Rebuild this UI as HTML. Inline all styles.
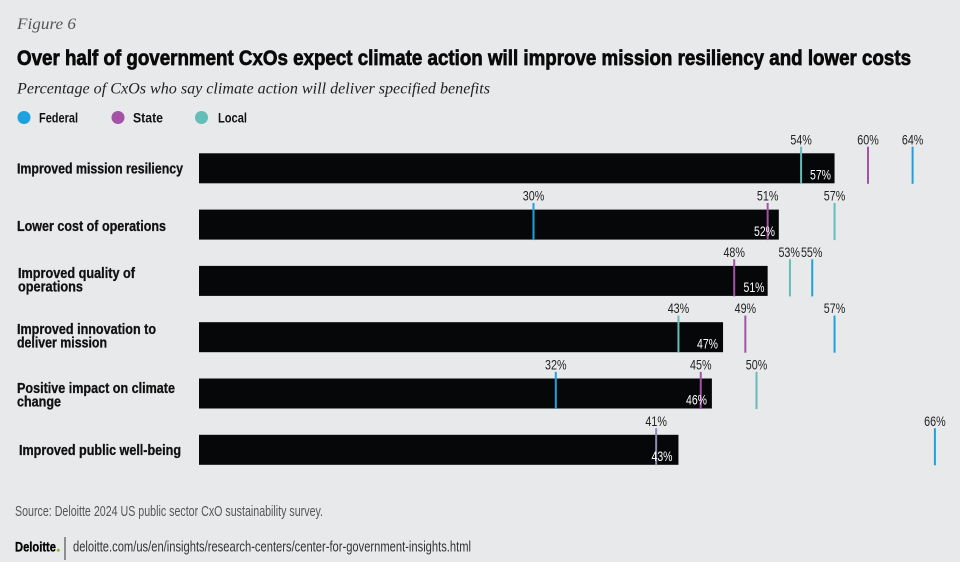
<!DOCTYPE html>
<html>
<head>
<meta charset="utf-8">
<style>
html,body{margin:0;padding:0;background:#e8e9eb;}
svg{display:block;}
.t{font-family:"Liberation Sans",sans-serif;}
.s{font-family:"Liberation Serif",serif;font-style:italic;}
.cat{font-family:"Liberation Sans",sans-serif;font-weight:bold;font-size:15px;fill:#111;stroke:#111;stroke-width:0.3;}
.pl{font-family:"Liberation Sans",sans-serif;font-size:14px;fill:#222;text-anchor:middle;}
.il{font-family:"Liberation Sans",sans-serif;font-size:14px;fill:#fff;text-anchor:end;}
</style>
</head>
<body>
<svg width="960" height="562" viewBox="0 0 960 562" xmlns="http://www.w3.org/2000/svg">
<rect x="0" y="0" width="960" height="562" fill="#e8e9eb"/>

<text class="s" x="17" y="29" font-size="16" fill="#555" textLength="59" lengthAdjust="spacingAndGlyphs">Figure 6</text>
<text class="t" x="17" y="65" font-size="21" font-weight="bold" fill="#0a0a0a" stroke="#0a0a0a" stroke-width="0.7" textLength="894" lengthAdjust="spacingAndGlyphs">Over half of government CxOs expect climate action will improve mission resiliency and lower costs</text>
<text class="s" x="17" y="93.3" font-size="16" fill="#222" textLength="473" lengthAdjust="spacingAndGlyphs">Percentage of CxOs who say climate action will deliver specified benefits</text>

<!-- legend -->
<circle cx="24" cy="117.5" r="6.5" fill="#1ea2dd"/>
<text class="t" x="39" y="122.3" font-size="14" font-weight="bold" fill="#111" textLength="39" lengthAdjust="spacingAndGlyphs">Federal</text>
<circle cx="118" cy="117.5" r="6.5" fill="#a352a6"/>
<text class="t" x="133" y="122.3" font-size="14" font-weight="bold" fill="#111" textLength="30" lengthAdjust="spacingAndGlyphs">State</text>
<circle cx="201.5" cy="117.5" r="6.5" fill="#65bdb9"/>
<text class="t" x="218" y="122.3" font-size="14" font-weight="bold" fill="#111" textLength="29" lengthAdjust="spacingAndGlyphs">Local</text>

<!-- category labels -->
<text class="cat" x="17" y="173.3" textLength="166" lengthAdjust="spacingAndGlyphs">Improved mission resiliency</text>
<text class="cat" x="17" y="231" textLength="149" lengthAdjust="spacingAndGlyphs">Lower cost of operations</text>
<text class="cat" x="18" y="278" textLength="117" lengthAdjust="spacingAndGlyphs">Improved quality of</text>
<text class="cat" x="18" y="291.5" textLength="65" lengthAdjust="spacingAndGlyphs">operations</text>
<text class="cat" x="17" y="334" textLength="139" lengthAdjust="spacingAndGlyphs">Improved innovation to</text>
<text class="cat" x="17" y="347.5" textLength="90" lengthAdjust="spacingAndGlyphs">deliver mission</text>
<text class="cat" x="17" y="393" textLength="158" lengthAdjust="spacingAndGlyphs">Positive impact on climate</text>
<text class="cat" x="17" y="406.5" textLength="44" lengthAdjust="spacingAndGlyphs">change</text>
<text class="cat" x="19" y="455" textLength="162" lengthAdjust="spacingAndGlyphs">Improved public well-being</text>

<!-- bars -->
<rect x="199" y="153.3" width="635.55" height="30" fill="#060708"/>
<rect x="199" y="209.6" width="579.8" height="30" fill="#060708"/>
<rect x="199" y="265.9" width="568.65" height="30" fill="#060708"/>
<rect x="199" y="322.2" width="524.05" height="30" fill="#060708"/>
<rect x="199" y="378.5" width="512.9" height="30" fill="#060708"/>
<rect x="199" y="434.8" width="479.45" height="30" fill="#060708"/>

<g stroke-width="2">
<line x1="801.1" y1="146.7" x2="801.1" y2="183.8" stroke="#65bdb9"/>
<line x1="868" y1="146.7" x2="868" y2="183.8" stroke="#a352a6"/>
<line x1="912.6" y1="146.7" x2="912.6" y2="183.8" stroke="#1ea2dd"/>
<line x1="533.5" y1="203" x2="533.5" y2="240.1" stroke="#1ea2dd"/>
<line x1="767.65" y1="203" x2="767.65" y2="240.1" stroke="#a352a6"/>
<line x1="834.55" y1="203" x2="834.55" y2="240.1" stroke="#65bdb9"/>
<line x1="734.2" y1="259.3" x2="734.2" y2="296.4" stroke="#a352a6"/>
<line x1="789.95" y1="259.3" x2="789.95" y2="296.4" stroke="#65bdb9"/>
<line x1="812.25" y1="259.3" x2="812.25" y2="296.4" stroke="#1ea2dd"/>
<line x1="678.45" y1="315.6" x2="678.45" y2="352.7" stroke="#65bdb9"/>
<line x1="745.35" y1="315.6" x2="745.35" y2="352.7" stroke="#a352a6"/>
<line x1="834.55" y1="315.6" x2="834.55" y2="352.7" stroke="#1ea2dd"/>
<line x1="555.8" y1="371.9" x2="555.8" y2="409" stroke="#1ea2dd"/>
<line x1="700.75" y1="371.9" x2="700.75" y2="409" stroke="#a352a6"/>
<line x1="756.5" y1="371.9" x2="756.5" y2="409" stroke="#65bdb9"/>
<line x1="656.15" y1="428.2" x2="656.15" y2="465.3" stroke="#8b8fb3"/>
<line x1="934.9" y1="428.2" x2="934.9" y2="465.3" stroke="#1ea2dd"/>
</g>

<!-- above labels -->
<text class="pl" x="801.1" y="144.3" textLength="21.5" lengthAdjust="spacingAndGlyphs">54%</text>
<text class="pl" x="868" y="144.3" textLength="21.5" lengthAdjust="spacingAndGlyphs">60%</text>
<text class="pl" x="912.6" y="144.3" textLength="21.5" lengthAdjust="spacingAndGlyphs">64%</text>

<text class="pl" x="533.5" y="200.6" textLength="21.5" lengthAdjust="spacingAndGlyphs">30%</text>
<text class="pl" x="767.65" y="200.6" textLength="21.5" lengthAdjust="spacingAndGlyphs">51%</text>
<text class="pl" x="834.55" y="200.6" textLength="21.5" lengthAdjust="spacingAndGlyphs">57%</text>

<text class="pl" x="734.2" y="256.9" textLength="21.5" lengthAdjust="spacingAndGlyphs">48%</text>
<text class="pl" x="789.2" y="256.9" textLength="21.5" lengthAdjust="spacingAndGlyphs">53%</text>
<text class="pl" x="811.7" y="256.9" textLength="21.5" lengthAdjust="spacingAndGlyphs">55%</text>

<text class="pl" x="678.45" y="313.2" textLength="21.5" lengthAdjust="spacingAndGlyphs">43%</text>
<text class="pl" x="745.35" y="313.2" textLength="21.5" lengthAdjust="spacingAndGlyphs">49%</text>
<text class="pl" x="834.55" y="313.2" textLength="21.5" lengthAdjust="spacingAndGlyphs">57%</text>

<text class="pl" x="555.8" y="369.5" textLength="21.5" lengthAdjust="spacingAndGlyphs">32%</text>
<text class="pl" x="700.75" y="369.5" textLength="21.5" lengthAdjust="spacingAndGlyphs">45%</text>
<text class="pl" x="756.5" y="369.5" textLength="21.5" lengthAdjust="spacingAndGlyphs">50%</text>

<text class="pl" x="656.15" y="425.8" textLength="21.5" lengthAdjust="spacingAndGlyphs">41%</text>
<text class="pl" x="934.9" y="425.8" textLength="21.5" lengthAdjust="spacingAndGlyphs">66%</text>

<!-- inside labels -->
<text class="il" x="831" y="179.5" textLength="21" lengthAdjust="spacingAndGlyphs">57%</text>
<text class="il" x="775" y="235.8" textLength="21" lengthAdjust="spacingAndGlyphs">52%</text>
<text class="il" x="764.5" y="292.1" textLength="21" lengthAdjust="spacingAndGlyphs">51%</text>
<text class="il" x="718" y="348.4" textLength="21" lengthAdjust="spacingAndGlyphs">47%</text>
<text class="il" x="707" y="404.7" textLength="21" lengthAdjust="spacingAndGlyphs">46%</text>
<text class="il" x="672.5" y="461" textLength="21" lengthAdjust="spacingAndGlyphs">43%</text>

<!-- footer -->
<text class="t" x="15" y="516" font-size="14.5" fill="#555" textLength="308" lengthAdjust="spacingAndGlyphs">Source: Deloitte 2024 US public sector CxO sustainability survey.</text>
<text class="t" x="15" y="551.7" font-size="13.5" font-weight="bold" fill="#000" stroke="#000" stroke-width="0.3" textLength="41" lengthAdjust="spacingAndGlyphs">Deloitte</text>
<circle cx="58.3" cy="550.3" r="1.5" fill="#86bc25"/>
<line x1="65" y1="537" x2="65" y2="560" stroke="#333" stroke-width="1"/>
<text class="t" x="73" y="551.7" font-size="15" fill="#333" textLength="398" lengthAdjust="spacingAndGlyphs">deloitte.com/us/en/insights/research-centers/center-for-government-insights.html</text>
</svg>
</body>
</html>
